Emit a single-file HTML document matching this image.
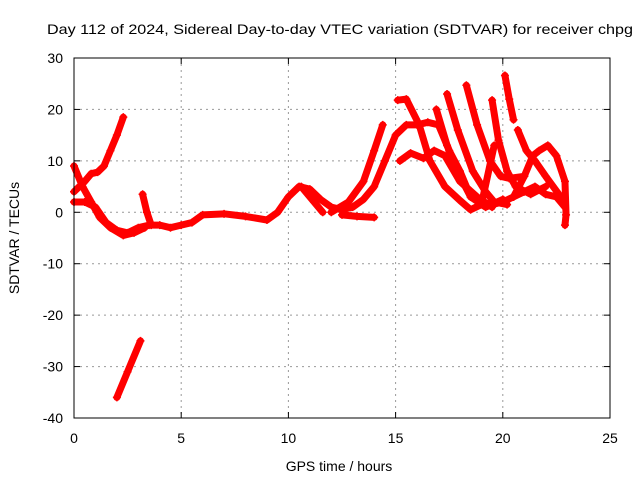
<!DOCTYPE html>
<html><head><meta charset="utf-8"><style>
body{margin:0;background:#fff}
svg{display:block;font-family:"Liberation Sans",sans-serif}
</style></head><body>
<svg id="chart" width="640" height="480">
<text x="340" y="34" font-size="14" text-anchor="middle" textLength="586" lengthAdjust="spacingAndGlyphs">Day 112 of 2024, Sidereal Day-to-day VTEC variation (SDTVAR) for receiver chpg</text>
<text x="339" y="471" font-size="14" text-anchor="middle">GPS time / hours</text>
<text transform="translate(19,238) rotate(-90)" font-size="14" text-anchor="middle">SDTVAR / TECUs</text>
<g id="grid"></g><g id="ticks"></g><g id="series"></g>
<rect x="74" y="58" width="536" height="360" fill="none" stroke="#000" stroke-width="1"/>
</svg>
<script>
const xTicks=[0,5,10,15,20,25];
const yTicks=[-40,-30,-20,-10,0,10,20,30];
const track1=[[0,4],[0.5,6],[0.8,7.5],[1.1,7.8],[1.4,9],[1.7,12],[2.0,15],[2.3,18.5]];
const track2=[[0,9],[0.4,5],[0.8,2],[1.2,-1],[1.7,-3],[2.3,-4.5],[2.8,-4],[3.3,-3]];
const track3=[[0,2],[0.5,2],[1,1],[1.5,-2],[2,-3.5],[2.5,-4],[3,-3],[3.5,-2.5],[4,-2.5],[4.5,-3],[5,-2.5],[5.5,-2],[6,-0.5],[7,-0.3],[8,-0.8],[9,-1.5],[9.5,0],[10,3],[10.5,5],[11,4.5],[11.5,2.5],[12,1],[12.5,0.5],[13,1],[13.5,2.5],[14,5],[14.5,10],[15,15],[15.5,17],[16,17],[16.5,17.5],[17,17],[17.5,12],[18,8],[18.5,3],[19,2],[19.5,1.5],[20,2],[20.5,3],[21,4],[21.5,5],[22,3.5],[22.5,3],[22.9,1]];
const track4=[[2,-36],[2.5,-31],[3.1,-25]];
const track5=[[3.2,3.5],[3.4,0],[3.6,-2.5]];
const track6=[[10.6,5],[11.2,2],[11.6,0]];
const track7=[[12.5,-0.5],[13.2,-0.8],[14,-1]];
const track8=[[12,0],[12.8,2],[13.5,6],[14.0,12],[14.4,17]];
const track9=[[15.1,21.8],[15.5,22],[16.1,17],[16.6,10],[17.3,5],[18,2.3],[18.5,0.5],[19,1.5],[19.6,13]];
const track10=[[15.2,10],[15.7,11.5],[16.3,10.5],[16.8,12],[17.3,11],[18,6],[18.8,3],[19.5,1]];
const track11=[[16.9,20],[17.4,13],[18,7],[18.5,3],[19.2,1],[20,2.5]];
const track12=[[17.4,23],[17.9,16],[18.6,8],[19.2,4],[19.6,2],[20.2,1.5]];
const track13=[[18.3,24.7],[18.8,17],[19.4,10],[19.9,7],[20.3,6.6],[21,7]];
const track14=[[19.5,21.8],[19.8,14],[20.2,8],[20.6,5],[21.3,3.5],[22,5]];
const track15=[[20.1,26.6],[20.3,22],[20.5,18]];
const track16=[[20.7,16],[21.1,12],[21.5,10],[22,7],[22.7,3]];
const track17=[[20.5,3],[21,7],[21.4,11],[21.7,12],[22.1,13],[22.5,11],[22.9,6],[22.95,-0.5],[22.9,-2.5]];
const tracks=[track1,track2,track3,track4,track5,track6,track7,track8,track9,track10,track11,track12,track13,track14,track15,track16,track17];
const NS="http://www.w3.org/2000/svg";
const xs=h=>74+h*536/25, ys=v=>58+(30-v)*360/70;
const g=document.getElementById('grid'),t=document.getElementById('ticks'),s=document.getElementById('series');
function mk(tag,attrs,parent){const e=document.createElementNS(NS,tag);for(const k in attrs)e.setAttribute(k,attrs[k]);parent.appendChild(e);return e;}
xTicks.forEach(v=>{const x=xs(v);
 if(v>0&&v<25){const l=mk('line',{x1:x,x2:x,y1:58,y2:418,stroke:'#999','stroke-dasharray':'2,4'},g);
 
 }
 mk('line',{x1:x,x2:x,y1:418,y2:412,stroke:'#000'},t);mk('line',{x1:x,x2:x,y1:58,y2:64,stroke:'#000'},t);
 const tx=mk('text',{x:x,y:443,'font-size':14,'text-anchor':'middle'},t);tx.textContent=v;
 
 });
yTicks.forEach(v=>{const y=ys(v);
 if(v>-40&&v<30){const l=mk('line',{x1:74,x2:610,y1:y,y2:y,stroke:'#999','stroke-dasharray':'2,4'},g);
 
 }
 mk('line',{x1:74,x2:80,y1:y,y2:y,stroke:'#000'},t);mk('line',{x1:604,x2:610,y1:y,y2:y,stroke:'#000'},t);
 const tx=mk('text',{x:63,y:y+5,'font-size':14,'text-anchor':'end'},t);tx.textContent=v;
 
 });
tracks.forEach((tr,i)=>{
 const p=mk('polyline',{points:tr.map(d=>xs(d[0])+','+ys(d[1])).join(' '),fill:'none',stroke:'#f00','stroke-width':7,'stroke-linejoin':'round','stroke-linecap':'round'},s);
 
 
 tr.forEach(d=>{const x=xs(d[0]),y=ys(d[1]);
  const m=mk('path',{d:`M${x-4},${y}H${x+4}M${x},${y-4}V${y+4}`,stroke:'#f00','stroke-width':1.5},s);
  
  });
});
</script>
</body></html>
